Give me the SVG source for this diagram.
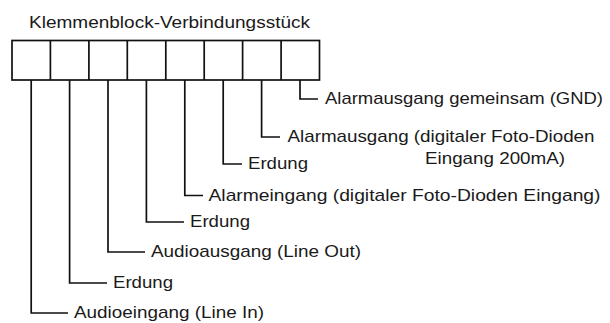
<svg xmlns="http://www.w3.org/2000/svg" width="610" height="323" viewBox="0 0 610 323">
<style>
.t{font-family:"Liberation Sans",Arial,sans-serif;font-size:17px;fill:#1a1a1a}
.ln{fill:none;stroke:#111;stroke-width:1.7}
</style>
<rect width="610" height="323" fill="#fff"/>
<g id="title"><text class="t" x="29" y="28" textLength="281" lengthAdjust="spacingAndGlyphs">Klemmenblock-Verbindungsstück</text></g>
<g id="block">
<rect class="ln" x="12" y="40.5" width="307.5" height="39.5"/>
<path class="ln" d="M50.4 40.5V80M88.9 40.5V80M127.3 40.5V80M165.8 40.5V80M204.2 40.5V80M242.6 40.5V80M281.1 40.5V80"/>
</g>
<g id="connectors">
<path class="ln" d="M31.2 80V313H68"/>
<path class="ln" d="M69.6 80V283H107"/>
<path class="ln" d="M108 80V252H145"/>
<path class="ln" d="M146.4 80V222H184"/>
<path class="ln" d="M184.8 80V195.5H203"/>
<path class="ln" d="M223.2 80V164H242"/>
<path class="ln" d="M261.6 80V137H280"/>
<path class="ln" d="M300 80V99H318"/>
</g>
<g id="pin1"><text class="t" x="74" y="318" textLength="190" lengthAdjust="spacingAndGlyphs">Audioeingang (Line In)</text></g>
<g id="pin2"><text class="t" x="113" y="288" textLength="60" lengthAdjust="spacingAndGlyphs">Erdung</text></g>
<g id="pin3"><text class="t" x="151" y="257" textLength="210" lengthAdjust="spacingAndGlyphs">Audioausgang (Line Out)</text></g>
<g id="pin4"><text class="t" x="190" y="227" textLength="60" lengthAdjust="spacingAndGlyphs">Erdung</text></g>
<g id="pin5"><text class="t" x="208.5" y="200.5" textLength="392" lengthAdjust="spacingAndGlyphs">Alarmeingang (digitaler Foto-Dioden Eingang)</text></g>
<g id="pin6"><text class="t" x="248" y="169" textLength="60" lengthAdjust="spacingAndGlyphs">Erdung</text></g>
<g id="pin7">
<text class="t" x="287.5" y="142" textLength="307" lengthAdjust="spacingAndGlyphs">Alarmausgang (digitaler Foto-Dioden</text>
<text class="t" x="425" y="164" textLength="140" lengthAdjust="spacingAndGlyphs">Eingang 200mA)</text>
</g>
<g id="pin8"><text class="t" x="325" y="104" textLength="278" lengthAdjust="spacingAndGlyphs">Alarmausgang gemeinsam (GND)</text></g>
</svg>
